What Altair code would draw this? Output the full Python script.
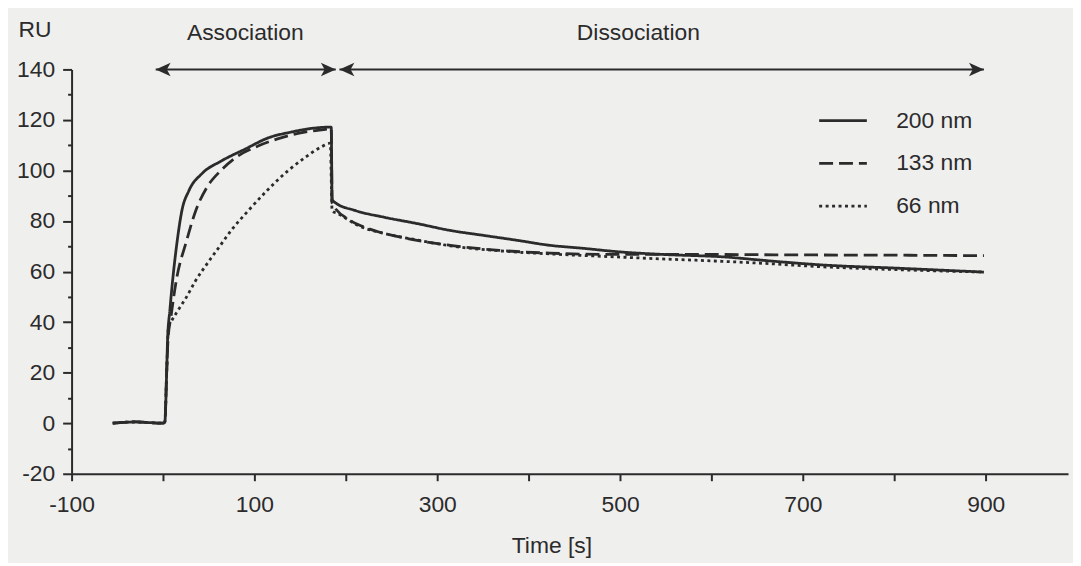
import altair as alt
import pandas as pd

# ---- data ----
series_names = ["200 nm", "133 nm", "66 nm"]

t_200 = [-55, -30, 0, 2, 4, 5, 7.6, 10.9, 15.2, 20.7, 28.3, 42.4, 64, 90, 115, 140, 166, 184,
         185, 188, 210, 242, 278, 314, 351, 387, 423, 460, 496, 546, 618, 655, 727, 800, 898]
v_200 = [0, 0.5, 0, 0.5, 20, 33, 45, 57.8, 71.2, 84.2, 92.0, 98.7, 103.8, 108.5, 112.9, 115.2, 116.8, 117.2,
         88.5, 87.4, 84.2, 81.5, 79.0, 76.3, 74.3, 72.4, 70.4, 69.2, 67.9, 66.8, 65.7, 64.5, 62.5, 61.4, 59.8]

t_133 = [-55, -30, 0, 2, 4, 5.5, 8.7, 15.2, 25, 35.9, 47.8, 63, 79, 104, 129, 155, 180, 184,
         185, 205, 224, 260, 314, 368, 423, 496, 583, 690, 800, 898]
v_133 = [0, 0.5, 0, 0.5, 20, 33, 42.1, 57.8, 71.2, 84.2, 93.2, 99.9, 105.0, 109.7, 112.9, 115.2, 116.4, 116.6,
         87.0, 80.2, 77.1, 73.6, 70.4, 68.4, 67.3, 66.8, 66.8, 66.6, 66.5, 66.3]

t_66 = [-55, -30, 0, 2, 4, 6, 8.7, 17, 25, 35, 50, 62, 75, 93, 115, 137, 155, 173, 183,
        185, 191, 213, 242, 278, 314, 368, 423, 496, 546, 583, 655, 727, 800, 898]
v_66 = [0, 0.5, 0, 0.5, 20, 38, 40, 45, 49.5, 56, 64, 70, 76.5, 84, 92.5, 100, 105, 109.3, 110.8,
        84, 83, 78.3, 75.1, 72.5, 70.2, 68.2, 67.0, 65.8, 65.0, 64.5, 63.3, 61.8, 60.8, 59.8]

phases = ["Association", "Dissociation"]
phase_label_x = [90, 520]
arrow_start = [-8, 193]
arrow_end = [189, 898]
arrow_y = [140, 140]

x_ticks = list(range(-100, 901, 100))
y_ticks = list(range(-20, 141, 10))

# ---- tables ----
rows = []
for name, ts, vs in [(series_names[0], t_200, v_200), (series_names[1], t_133, v_133), (series_names[2], t_66, v_66)]:
    for t, v in zip(ts, vs):
        rows.append({"series": name, "t": t, "ru": v})
curves = pd.DataFrame(rows)
phase_df = pd.DataFrame({"phase": phases, "lx": phase_label_x, "xs": arrow_start, "xe": arrow_end, "ay": arrow_y})

FONT = "Liberation Sans"
INK = "#2b2b2b"

xscale = alt.Scale(domain=[-100, 990], nice=False, zero=False)
yscale = alt.Scale(domain=[-20, 140], nice=False, zero=False)

x_axis = alt.Axis(
    values=x_ticks,
    labelExpr="(datum.value + 100) % 200 == 0 ? toString(datum.value) : ''",
    title="Time [s]", titleX=483, titleY=72, titleBaseline="middle",
    titleFontSize=23, titleFontWeight="normal", titleFont=FONT, titleColor=INK,
    labelFontSize=23, labelFont=FONT, labelColor=INK, labelPadding=13,
    tickSize=7, tickWidth=2, tickColor=INK, domainColor=INK, domainWidth=2,
    grid=False, labelFlush=False, labelOverlap=False,
)
y_axis = alt.Axis(
    values=y_ticks,
    labelExpr="datum.value % 20 == 0 ? toString(datum.value) : ''",
    title="RU", titleAngle=0, titleX=-54, titleY=-40, titleAlign="left", titleBaseline="middle",
    titleFontSize=23, titleFontWeight="normal", titleFont=FONT, titleColor=INK,
    labelFontSize=23, labelFont=FONT, labelColor=INK, labelPadding=8,
    tickSize={"condition": {"test": "datum.value % 20 == 0", "value": 9}, "value": 4},
    tickWidth=2, tickColor=INK, domainColor=INK, domainWidth=2,
    grid=False, labelOverlap=False,
)

lines = alt.Chart(curves).mark_line(color=INK, strokeWidth=2.8, interpolate="monotone").encode(
    x=alt.X("t:Q", scale=xscale, axis=x_axis),
    y=alt.Y("ru:Q", scale=yscale, axis=y_axis),
    strokeDash=alt.StrokeDash(
        "series:N",
        scale=alt.Scale(domain=series_names, range=[[1, 0], [14, 6], [3, 3.5]]),
        sort=series_names,
        legend=alt.Legend(
            title=None, orient="none", legendX=763, legendY=38,
            symbolType="M-2,0H2", symbolSize=576, symbolStrokeWidth=2.8,
            symbolStrokeColor=INK, labelFontSize=23, labelFont=FONT, labelColor=INK,
            labelOffset=40, rowPadding=17, padding=0,
            labelExpr="datum.label == '66 nm' ? '\u2007' + datum.label : datum.label",
        ),
    ),
    detail="series:N",
)

phase_text = alt.Chart(phase_df).mark_text(font=FONT, fontSize=23, color=INK, baseline="middle").encode(
    x=alt.X("lx:Q", scale=xscale, axis=x_axis),
    y=alt.value(-37),
    text="phase:N",
)

arrow_rule = alt.Chart(phase_df).mark_rule(color=INK, strokeWidth=2).encode(
    x=alt.X("xs:Q", scale=xscale, axis=x_axis),
    x2="xe:Q",
    y=alt.Y("ay:Q", scale=yscale, axis=y_axis),
)

head_right = alt.Chart(phase_df).mark_point(
    shape="M0,0L-1,-0.45L-0.75,0L-1,0.45Z", filled=True, size=900, color=INK, opacity=1
).encode(
    x=alt.X("xe:Q", scale=xscale, axis=x_axis),
    y=alt.Y("ay:Q", scale=yscale, axis=y_axis),
)

head_left = alt.Chart(phase_df).mark_point(
    shape="M0,0L1,-0.45L0.75,0L1,0.45Z", filled=True, size=900, color=INK, opacity=1
).encode(
    x=alt.X("xs:Q", scale=xscale, axis=x_axis),
    y=alt.Y("ay:Q", scale=yscale, axis=y_axis),
)

chart = alt.layer(lines, phase_text, arrow_rule, head_right, head_left).properties(
    width=1003, height=407,
    autosize=alt.AutoSizeParams(type="none"),
    padding={"left": 64, "top": 60, "right": 5, "bottom": 88},
    background="#efefee",
).configure_view(stroke=None)

chart.save("out.html", embed_options={"renderer": "svg", "actions": False})
